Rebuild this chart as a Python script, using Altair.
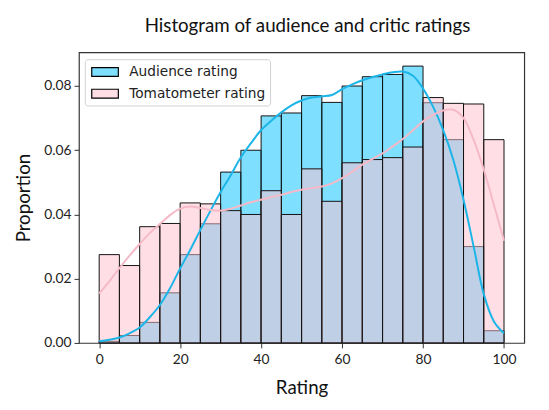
import altair as alt
import pandas as pd

# ---- data ----
bin_starts = [0, 5, 10, 15, 20, 25, 30, 35, 40, 45, 50, 55, 60, 65, 70, 75, 80, 85, 90, 95]
audience = [0.0005, 0.0023, 0.0064, 0.0156, 0.0275, 0.0371, 0.0532, 0.0600, 0.0707, 0.0716,
            0.0770, 0.0749, 0.0800, 0.0829, 0.0836, 0.0862, 0.0748, 0.0633, 0.0300, 0.0038]
tomatometer = [0.0275, 0.0241, 0.0362, 0.0372, 0.0436, 0.0433, 0.0412, 0.0400, 0.0474, 0.0400,
               0.0542, 0.0441, 0.0561, 0.0571, 0.0577, 0.0610, 0.0764, 0.0746, 0.0744, 0.0633]

kde_x = [0, 2.5, 5, 7.5, 10, 12.5, 15, 17.5, 20, 22.5, 25, 27.5, 30, 32.5, 35, 37.5, 40, 42.5,
         45, 47.5, 50, 52.5, 55, 57.5, 60, 62.5, 65, 67.5, 70, 72.5, 75, 77.5, 80, 82.5, 85,
         87.5, 90, 92.5, 95, 97.5, 100]
audience_kde = [0.0005, 0.0010, 0.0017, 0.0030, 0.0048, 0.0080, 0.0118, 0.0170, 0.0232, 0.0290,
                0.0352, 0.0412, 0.0470, 0.0522, 0.0578, 0.0622, 0.0663, 0.0692, 0.0718, 0.0740,
                0.0755, 0.0764, 0.0768, 0.0772, 0.0790, 0.0805, 0.0818, 0.0828, 0.0836, 0.0843,
                0.0845, 0.0832, 0.0792, 0.0735, 0.0662, 0.0569, 0.0446, 0.0300, 0.0152, 0.0067,
                0.0030]
tomatometer_kde = [0.0154, 0.0192, 0.0233, 0.0272, 0.0308, 0.0342, 0.0370, 0.0398, 0.0418, 0.0425,
                   0.0420, 0.0414, 0.0412, 0.0418, 0.0428, 0.0438, 0.0446, 0.0454, 0.0461, 0.0470,
                   0.0477, 0.0482, 0.0487, 0.0497, 0.0513, 0.0533, 0.0555, 0.0573, 0.0590, 0.0612,
                   0.0635, 0.0662, 0.0690, 0.0710, 0.0724, 0.0726, 0.0700, 0.0632, 0.0540, 0.0430,
                   0.0318]

series_names = ["Audience rating", "Tomatometer rating"]
bin_width = 5

rows = []
for name, vals in zip(series_names, [audience, tomatometer]):
    for s, v in zip(bin_starts, vals):
        rows.append({"series": name, "start": s, "end": s + bin_width, "value": v})
bars_df = pd.DataFrame(rows)

krows = []
for name, vals in zip(series_names, [audience_kde, tomatometer_kde]):
    for x, v in zip(kde_x, vals):
        krows.append({"kde_series": name, "x": x, "y": v})
kde_df = pd.DataFrame(krows)

x_scale = alt.Scale(domain=[-5, 105], nice=False, zero=False)
y_scale = alt.Scale(domain=[0, 0.0905], nice=False)

fill_scale = alt.Scale(domain=series_names,
                       range=["rgba(0,191,255,0.5)", "rgba(255,192,203,0.5)"])
line_scale = alt.Scale(domain=series_names, range=["#1cb5e8", "#f5b9c7"])

bars = alt.Chart(bars_df).mark_rect(stroke="#111111", strokeWidth=1).encode(
    x=alt.X("start:Q", scale=x_scale,
            axis=alt.Axis(values=[0, 20, 40, 60, 80, 100], title="Rating")),
    x2="end:Q",
    y=alt.Y("value:Q", scale=y_scale,
            axis=alt.Axis(values=[0, 0.02, 0.04, 0.06, 0.08], format=".2f", title="Proportion")),
    y2=alt.datum(0),
    fill=alt.Fill("series:N", scale=fill_scale, sort=series_names,
                  legend=alt.Legend(
                      title=None, orient="none", legendX=6, legendY=7,
                      fillColor="white", strokeColor="#d0d0d0", cornerRadius=3,
                      padding=5, labelFont="DejaVu Sans", labelFontSize=13.9,
                      labelColor="#222222", labelOffset=24, rowPadding=7,
                      symbolType="M-0.857,-0.643H3V0.643H-0.857Z", symbolSize=196,
                      symbolStrokeColor="#000000", symbolStrokeWidth=1.2)),
    order=alt.Order("series:N"),
)

lines = alt.Chart(kde_df).mark_line(strokeWidth=2, interpolate="catmull-rom").encode(
    x=alt.X("x:Q", scale=x_scale),
    y=alt.Y("y:Q", scale=y_scale),
    stroke=alt.Stroke("kde_series:N", scale=line_scale, legend=None),
)

chart = alt.layer(bars, lines).resolve_scale(
    stroke="independent", fill="independent"
).resolve_legend(
    stroke="independent", fill="independent"
).properties(
    width=452, height=295,
    padding={"left": 72, "top": 42, "right": 17, "bottom": 57},
    autosize="none",
    title=alt.TitleParams("Histogram of audience and critic ratings", font="Lato",
                          fontSize=19, fontWeight="normal", color="#111111",
                          anchor="middle", offset=17, dx=6),
).configure_view(
    stroke="#333333", strokeWidth=1.2
).configure_legend(
    symbolStrokeColor="#000000"
).configure_axis(
    domain=False, grid=False, ticks=True, tickSize=5, tickColor="#333333",
    labelFont="Lato", labelFontSize=14, labelColor="#222222",
    titleFont="Lato", titleFontSize=19, titleFontWeight="normal", titleColor="#111111",
).configure_axisY(titlePadding=11, labelPadding=3).configure_axisX(titlePadding=12, labelPadding=5)

chart.save("out.html", embed_options={"renderer": "svg", "actions": False})
